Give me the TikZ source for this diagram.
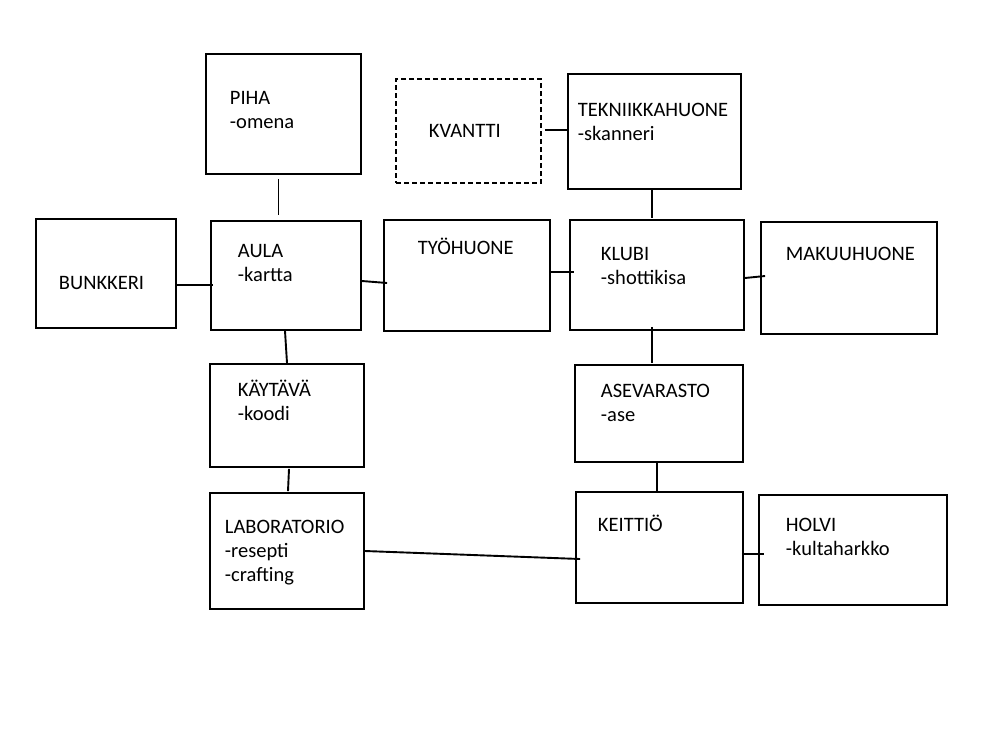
\documentclass[tikz,border=0pt]{standalone}
\usepackage{fontspec}
\setmainfont{Carlito}
\usetikzlibrary{calc}
\begin{document}
\begin{tikzpicture}[x=1pt,y=-1pt,line width=1.9pt,
  room/.style={draw,rectangle,inner sep=0pt},
  txt/.style={anchor=base west,align=left,inner sep=0pt,font=\fontsize{20.5}{24}\selectfont}]
\useasboundingbox (0,0) rectangle (1000,750);
\node[room,minimum width=155,minimum height=120] (piha) at (283.5,114) {};
\node[room,dash pattern=on 5pt off 3pt,minimum width=145,minimum height=104] (kvantti) at (468.5,131) {};
\node[room,minimum width=173,minimum height=115] (tekn) at (654.5,131.5) {};
\node[room,minimum width=140,minimum height=109] (bunk) at (106,273.5) {};
\node[room,minimum width=150,minimum height=109] (aula) at (286,275.5) {};
\node[room,minimum width=166,minimum height=111] (tyo) at (467,275.5) {};
\node[room,minimum width=174,minimum height=110] (klubi) at (657,275) {};
\node[room,minimum width=176,minimum height=112] (maku) at (849,278) {};
\node[room,minimum width=154,minimum height=103] (kay) at (287,415.5) {};
\node[room,minimum width=168,minimum height=97] (ase) at (659,413.5) {};
\node[room,minimum width=154,minimum height=116] (lab) at (287,551) {};
\node[room,minimum width=167,minimum height=111] (keit) at (659.5,547.5) {};
\node[room,minimum width=188,minimum height=110] (holvi) at (853,550) {};
\node[txt] (pihat) at (229,128.5) {PIHA\\-omena};
\node[txt] (kvanttit) at (428,137.5) {KVANTTI};
\node[txt] (teknt) at (577,140.5) {TEKNIIKKAHUONE\\-skanneri};
\node[txt] (bunkt) at (58,289) {BUNKKERI};
\node[txt] (aulat) at (237,281.5) {AULA\\-kartta};
\node[txt] (tyot) at (417,254.5) {TYÖHUONE};
\node[txt] (klubit) at (600,284.5) {KLUBI\\-shottikisa};
\node[txt] (makut) at (785,260.5) {MAKUUHUONE};
\node[txt] (kayt) at (237,420.5) {KÄYTÄVÄ\\-koodi};
\node[txt] (aset) at (600,421.5) {ASEVARASTO\\-ase};
\node[txt] (labt) at (224,581.5) {LABORATORIO\\-resepti\\-crafting};
\node[txt] (keitt) at (597,531.5) {KEITTIÖ};
\node[txt] (holvit) at (785,555.5) {HOLVI\\-kultaharkko};
\draw ($(piha.south)+(-5,4)$) -- ($(aula.north)+(-7.5,-5)$);
\draw ($(kvantti.east)+(3,-1)$) -- ($(tekn.west)+(2,-1.5)$);
\draw ($(tekn.south)+(-2.5,0)$) -- ($(klubi.north)+(-5,-1)$);
\draw ($(bunk.east)+(0,11.5)$) -- ($(aula.west)+(3,9.5)$);
\draw ($(aula.east)+(0,5.5)$) -- ($(tyo.west)+(4,7.5)$);
\draw ($(tyo.east)+(0,-3.5)$) -- ($(klubi.west)+(5,-3)$);
\draw ($(klubi.east)+(0,3)$) -- ($(maku.west)+(5,-2)$);
\draw ($(aula.south)+(-1,0)$) -- (kay.north);
\draw ($(klubi.south)+(-5,-4)$) -- ($(ase.north)+(-7,-1)$);
\draw ($(kay.south)+(2,1)$) -- ($(lab.north)+(1,-1)$);
\draw ($(ase.south)+(-2,0)$) -- ($(keit.north)+(-2.5,0)$);
\draw (lab.east) -- ($(keit.west)+(5,11.5)$);
\draw ($(keit.east)+(-2,6.5)$) -- ($(holvi.west)+(6,4)$);
\end{tikzpicture}
\end{document}
